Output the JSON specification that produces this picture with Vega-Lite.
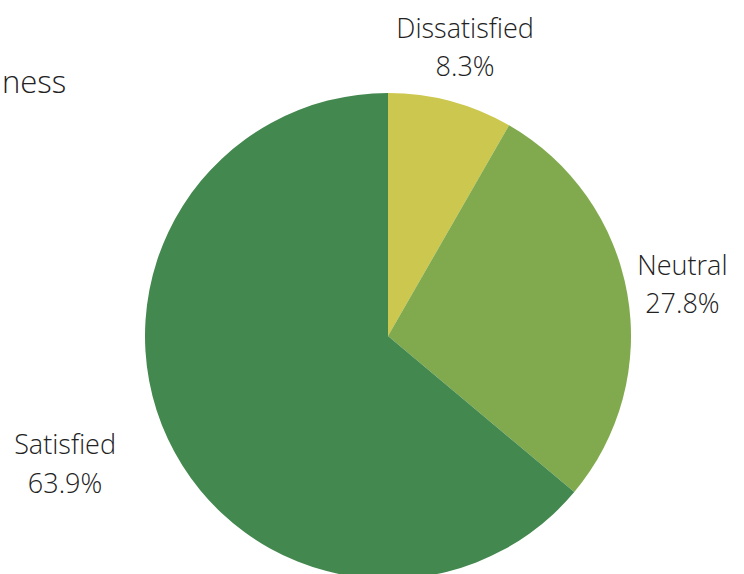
{
  "$schema": "https://vega.github.io/schema/vega-lite/v6.json",
  "width": 712,
  "height": 476,
  "autosize": "none",
  "padding": {"left": 32, "top": 98, "right": 0, "bottom": 0},
  "background": "white",
  "title": {
    "text": "ness",
    "anchor": "start",
    "frame": "group",
    "font": "Open Sans",
    "fontWeight": 300,
    "fontSize": 31,
    "color": "#222222",
    "dx": -30,
    "dy": 90,
    "offset": 6
  },
  "data": {
    "values": [
      {"category": "Dissatisfied", "share": 0.083, "order": 1},
      {"category": "Neutral", "share": 0.278, "order": 2},
      {"category": "Satisfied", "share": 0.639, "order": 3}
    ]
  },
  "transform": [
    {"calculate": "datum.category + '\\n' + format(datum.share, '.1%')", "as": "label"},
    {"stack": "share", "groupby": [], "sort": [{"field": "order"}], "as": ["s0", "s1"]},
    {"calculate": "(datum.s0 + datum.s1) / 2", "as": "mid"}
  ],
  "layer": [
    {
      "mark": {"type": "arc", "outerRadius": 243, "stroke": null},
      "encoding": {
        "theta": {"field": "share", "type": "quantitative", "stack": true, "scale": {"domain": [0, 1]}},
        "order": {"field": "order", "type": "quantitative"},
        "color": {
          "field": "category",
          "type": "nominal",
          "scale": {
            "domain": ["Dissatisfied", "Neutral", "Satisfied"],
            "range": ["#CCC74F", "#80AA4D", "#43884F"]
          },
          "legend": null
        }
      }
    },
    {
      "transform": [{"filter": "datum.category != 'Satisfied'"}],
      "mark": {
        "type": "text",
        "radius": 299,
        "font": "Open Sans",
        "fontWeight": 300,
        "fontSize": 27,
        "lineBreak": "\n",
        "lineHeight": 38,
        "align": "center",
        "baseline": "middle",
        "dy": -17,
        "color": "#222222"
      },
      "encoding": {
        "theta": {"field": "mid", "type": "quantitative", "stack": null, "scale": {"domain": [0, 1]}},
        "text": {"field": "label"}
      }
    },
    {
      "transform": [{"filter": "datum.category == 'Satisfied'"}],
      "mark": {
        "type": "text",
        "radius": 299,
        "font": "Open Sans",
        "fontWeight": 300,
        "fontSize": 27,
        "lineBreak": "\n",
        "lineHeight": 39,
        "align": "center",
        "baseline": "middle",
        "dx": -52,
        "dy": -16,
        "color": "#222222"
      },
      "encoding": {
        "theta": {"field": "mid", "type": "quantitative", "stack": null, "scale": {"domain": [0, 1]}},
        "text": {"field": "label"}
      }
    }
  ]
}
